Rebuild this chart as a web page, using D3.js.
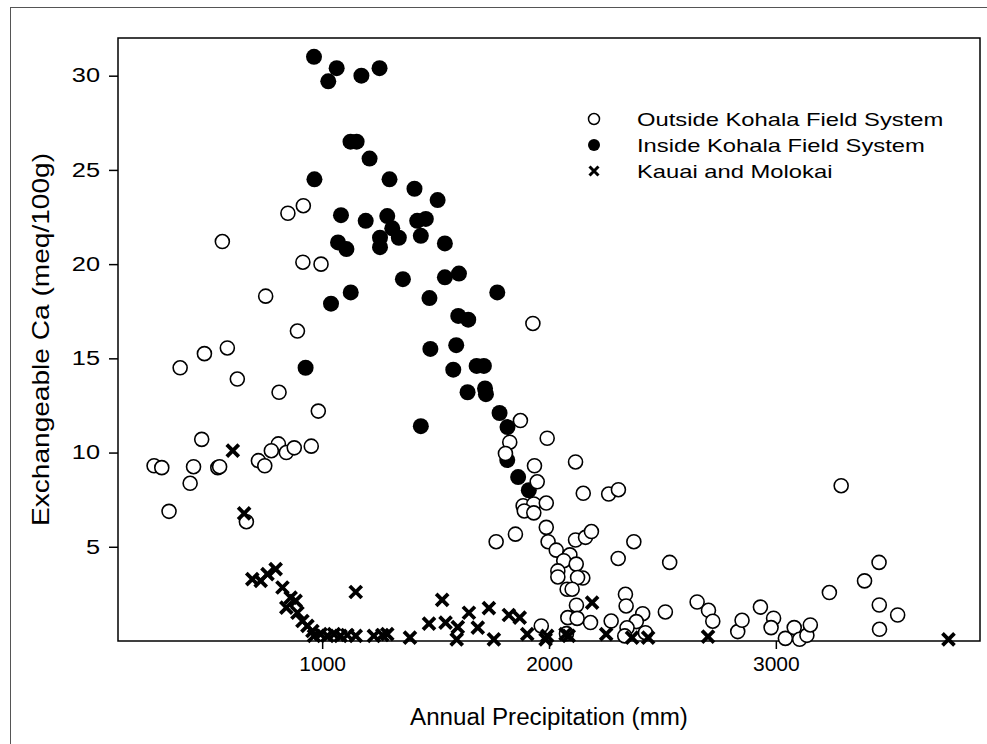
<!DOCTYPE html>
<html lang="en">
<head>
<meta charset="UTF-8">
<title>Exchangeable Ca vs Annual Precipitation</title>
<script src="https://d3js.org/d3.v7.min.js"></script>
<style>
    body { margin: 0; background: #fff; font-family: "Liberation Sans", Arial, sans-serif; }
    .axis path, .axis line { stroke: #000; stroke-width: 1.5; }
    .axis text { font-family: "Liberation Sans", Arial, sans-serif; fill: #000; }
</style>
</head>
<body>
<svg width="987" height="744"></svg>
<script>
// [annual precipitation (mm), exchangeable Ca (meq/100g)]
const outsideKohala = [
    [560,21.2],[849,22.7],[917,23.1],[915,20.1],[995,20.0],[751,18.3],[891,16.45],[374,14.5],
    [481,15.25],[582,15.55],[626,13.9],[810,13.2],[983,12.2],[469,10.7],[807,10.46],[776,10.1],
    [842,10.0],[877,10.25],[952,10.34],[719,9.57],[747,9.3],[259,9.3],[293,9.2],[433,9.25],
    [540,9.2],[548,9.25],[418,8.37],[325,6.88],[666,6.33],
    [1929,16.85],[1874,11.7],[1827,10.55],[1808,9.95],[1992,10.76],[1936,9.3],[2117,9.5],[1948,8.45],
    [2151,7.84],[2263,7.8],[2306,8.03],[1886,7.18],[1933,7.27],[1988,7.32],[1891,6.9],[1933,6.8],
    [1767,5.27],[1852,5.67],[1988,6.03],[1996,5.27],[2032,4.82],[2117,5.36],[2161,5.5],[2187,5.81],
    [2092,4.57],[2065,4.26],[2120,4.08],[2039,3.72],[2039,3.4],[2149,3.34],[2126,3.37],[2080,2.75],
    [2102,2.75],[2374,5.27],[2305,4.38],[2532,4.17],[2121,1.9],[2083,1.24],[2124,1.2],[2183,0.98],
    [1966,0.8],[2337,2.48],[2340,1.86],[2274,1.06],[2413,1.45],[2385,1.03],[2344,0.7],[2334,0.27],
    [2425,0.44],[2513,1.54],[2653,2.07],[2703,1.63],[2722,1.05],[2077,0.39],
    [3288,8.24],[2832,0.5],[2851,1.1],[2932,1.8],[2990,1.21],[2979,0.71],[3042,0.14],[3081,0.71],
    [3105,0.09],[3137,0.3],[3152,0.85],[3236,2.57],[3391,3.19],[3455,4.17],[3456,1.91],[3457,0.62],
    [3537,1.38]
];
const insideKohala = [
    [964,31.0],[1064,30.4],[1027,29.7],[1173,30.0],[1253,30.4],
    [1125,26.5],[1152,26.5],[1209,25.6],[966,24.5],[1297,24.5],[1407,24.0],[1509,23.4],
    [1083,22.6],[1192,22.3],[1287,22.55],[1419,22.3],[1457,22.4],[1309,21.9],[1338,21.4],[1255,21.4],
    [1435,21.5],[1541,21.1],[1070,21.15],[1107,20.8],[1255,20.9],
    [1356,19.2],[1541,19.3],[1603,19.5],[1126,18.5],[1039,17.9],[1473,18.2],[1772,18.5],[1600,17.25],
    [1644,17.05],[1477,15.5],[1591,15.7],[927,14.5],[1578,14.4],[1681,14.6],[1713,14.6],[1641,13.2],
    [1718,13.4],[1722,13.1],[1782,12.1],[1435,11.4],[1817,11.35],[1816,9.6],[1864,8.7],[1911,8.0]
];
const kauaiMolokai = [
    [606,10.1],[656,6.77],[692,3.28],[729,3.19],[759,3.55],[795,3.81],[825,2.84],[861,2.3],
    [883,2.13],[842,1.77],[891,1.5],[913,1.06],[935,0.8],[957,0.53],[964,0.27],[993,0.36],
    [1023,0.27],[1052,0.36],[1081,0.27],[1111,0.32],[1148,0.27],[1148,2.6],[1228,0.27],[1265,0.32],
    [1287,0.36],[1387,0.18],[1471,0.92],[1529,2.18],[1544,0.98],[1593,0.09],[1598,0.74],[1647,1.5],
    [1686,0.71],[1735,1.74],[1757,0.09],[1823,1.38],[1871,1.24],[1904,0.36],[1985,0.09],[1992,0.27],
    [2073,0.36],[2087,0.27],[2190,2.04],[2252,0.36],[2366,0.18],[2437,0.18],[2701,0.23],[3761,0.09]
];
const xTicks = [1000, 2000, 3000];
const yTicks = [5, 10, 15, 20, 25, 30];
const legendLabels = ["Outside Kohala Field System", "Inside Kohala Field System", "Kauai and Molokai"];

const svg = d3.select("svg");
const plot = { left: 118, right: 980, top: 38, bottom: 641 };

const x = d3.scaleLinear().domain([100, 3900]).range([plot.left, plot.right]);
const y = d3.scaleLinear().domain([0, 32]).range([plot.bottom, plot.top]);

// widen glyphs horizontally like the original export
function stretch(sel, sx) {
    sel.each(function() {
        const w = this.getComputedTextLength();
        d3.select(this).attr("textLength", w * sx).attr("lengthAdjust", "spacingAndGlyphs");
    });
}

// outer frame (only left/top edges fall inside the picture)
svg.append("rect")
   .attr("x", 10.5).attr("y", 7.5)
   .attr("width", 1000).attr("height", 800)
   .attr("fill", "none").attr("stroke", "#555").attr("stroke-width", 1);

// plot box
svg.append("rect")
   .attr("x", plot.left).attr("y", plot.top)
   .attr("width", plot.right - plot.left).attr("height", plot.bottom - plot.top)
   .attr("fill", "none").attr("stroke", "#000").attr("stroke-width", 1.5);

const xAxis = svg.append("g")
   .attr("class", "axis")
   .attr("transform", `translate(0,${plot.bottom})`)
   .call(d3.axisBottom(x).tickValues(xTicks).tickSize(8).tickPadding(8).tickFormat(d3.format("d")));
xAxis.select(".domain").remove();
xAxis.selectAll("text").style("font-size", "20px");
stretch(xAxis.selectAll("text"), 1.05);

const yAxis = svg.append("g")
   .attr("class", "axis")
   .attr("transform", `translate(${plot.left},0)`)
   .call(d3.axisLeft(y).tickValues(yTicks).tickSize(9).tickPadding(9));
yAxis.select(".domain").remove();
yAxis.selectAll("text").style("font-size", "19.5px");
stretch(yAxis.selectAll("text"), 1.3);

const xTitle = svg.append("text")
   .attr("x", (plot.left + plot.right) / 2).attr("y", 725)
   .attr("text-anchor", "middle")
   .style("font-size", "23px")
   .text("Annual Precipitation (mm)");
stretch(xTitle, 1.05);

const yTitle = svg.append("text")
   .attr("transform", `translate(49,${(plot.top + plot.bottom) / 2}) rotate(-90)`)
   .attr("text-anchor", "middle")
   .style("font-size", "24px")
   .text("Exchangeable Ca (meq/100g)");
stretch(yTitle, 1.17);

// symbols
const crossPath = "M-6,-6L6,6M-6,6L6,-6";

svg.append("g").selectAll("circle")
   .data(insideKohala)
   .join("circle")
   .attr("cx", d => x(d[0])).attr("cy", d => y(d[1]))
   .attr("r", 8).attr("fill", "#000");

svg.append("g").selectAll("circle")
   .data(outsideKohala)
   .join("circle")
   .attr("cx", d => x(d[0])).attr("cy", d => y(d[1]))
   .attr("r", 7).attr("fill", "#fff").attr("stroke", "#000").attr("stroke-width", 1.6);

svg.append("g").selectAll("path")
   .data(kauaiMolokai)
   .join("path")
   .attr("transform", d => `translate(${x(d[0])},${y(d[1])})`)
   .attr("d", crossPath)
   .attr("stroke", "#000").attr("stroke-width", 3.8).attr("fill", "none");

// legend
const legend = svg.append("g").attr("transform", "translate(594,119)");
const rows = legend.selectAll("g")
   .data(legendLabels)
   .join("g")
   .attr("transform", (d, i) => `translate(0,${i * 26})`);

rows.filter((d, i) => i === 0).append("circle")
   .attr("r", 5.5).attr("fill", "#fff").attr("stroke", "#000").attr("stroke-width", 1.5);
rows.filter((d, i) => i === 1).append("circle")
   .attr("r", 6).attr("fill", "#000");
rows.filter((d, i) => i === 2).append("path")
   .attr("d", "M-4.5,-4.5L4.5,4.5M-4.5,4.5L4.5,-4.5")
   .attr("stroke", "#000").attr("stroke-width", 3);

const legendText = rows.append("text")
   .attr("x", 43).attr("dy", "0.36em")
   .style("font-size", "19px")
   .text(d => d);
stretch(legendText, 1.25);
</script>
</body>
</html>
